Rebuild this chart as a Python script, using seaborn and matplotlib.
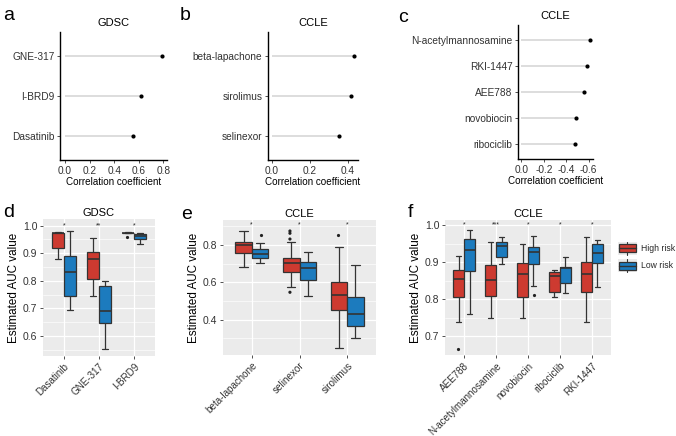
import numpy as np
import pandas as pd
import matplotlib
matplotlib.use("Agg")
import matplotlib.pyplot as plt
import seaborn as sns
from matplotlib.patches import Rectangle
from matplotlib.lines import Line2D
from matplotlib.ticker import FixedLocator

# ---------------- data ----------------
a_drugs = ["GNE-317", "I-BRD9", "Dasatinib"]
a_cor = [0.79, 0.62, 0.55]
b_drugs = ["beta-lapachone", "sirolimus", "selinexor"]
b_cor = [0.43, 0.415, 0.355]
c_drugs = ["N-acetylmannosamine", "RKI-1447", "AEE788", "novobiocin", "ribociclib"]
c_cor = [-0.61, -0.585, -0.56, -0.49, -0.475]

# box stats per drug: [lower whisker, q1, median, q3, upper whisker]
d_drugs = ["Dasatinib", "GNE-317", "I-BRD9"]
d_high = [[0.878, 0.918, 0.972, 0.975, 0.978],
          [0.746, 0.807, 0.878, 0.906, 0.954],
          [0.972, 0.973, 0.974, 0.975, 0.977]]
d_low = [[0.694, 0.745, 0.832, 0.890, 0.981],
         [0.553, 0.647, 0.692, 0.780, 0.800],
         [0.934, 0.953, 0.963, 0.970, 0.972]]
d_out_high = [[], [], [0.958]]
d_out_low = [[], [], []]
d_sig = ["*", "**", "*"]

e_drugs = ["beta-lapachone", "selinexor", "sirolimus"]
e_high = [[0.684, 0.755, 0.802, 0.818, 0.877],
          [0.577, 0.657, 0.705, 0.729, 0.818],
          [0.246, 0.452, 0.532, 0.600, 0.788]]
e_low = [[0.705, 0.729, 0.754, 0.779, 0.812],
         [0.529, 0.612, 0.675, 0.711, 0.764],
         [0.300, 0.368, 0.429, 0.520, 0.693]]
e_out_high = [[], [0.875, 0.863, 0.832, 0.547], [0.854]]
e_out_low = [[0.854], [], []]
e_sig = ["*", "*", "*"]

f_drugs = ["AEE788", "N-acetylmannosamine", "novobiocin", "ribociclib", "RKI-1447"]
f_high = [[0.739, 0.806, 0.853, 0.878, 0.916],
          [0.750, 0.808, 0.851, 0.892, 0.953],
          [0.750, 0.806, 0.868, 0.898, 0.948],
          [0.806, 0.820, 0.862, 0.874, 0.878],
          [0.737, 0.818, 0.868, 0.899, 0.967]]
f_low = [[0.759, 0.877, 0.932, 0.962, 0.986],
         [0.895, 0.914, 0.943, 0.955, 0.967],
         [0.835, 0.895, 0.928, 0.940, 0.970],
         [0.817, 0.844, 0.885, 0.887, 0.914],
         [0.832, 0.898, 0.925, 0.948, 0.959]]
f_out_high = [[0.664], [], [], [], []]
f_out_low = [[], [], [0.811], [], []]
f_sig = ["*", "***", "*", "*", "*"]

risk_levels = ["High risk", "Low risk"]
risk_colors = ["#CD3A30", "#1C7BBE"]

# ---------------- style ----------------
sns.set_theme(style="white")
plt.rcParams["font.family"] = ["Liberation Sans", "DejaVu Sans"]
plt.rcParams["axes.unicode_minus"] = False

W, H = 676, 436
fig = plt.figure(figsize=(W / 100, H / 100), dpi=100)


def add_panel(left, top, right, bottom):
    return fig.add_axes([left / W, 1 - bottom / H, (right - left) / W, (bottom - top) / H])


def lollipop(ax, drugs, vals, title, ticks, xlim):
    df = pd.DataFrame({"drug": drugs, "cor": vals})
    ax.hlines(y=np.arange(len(drugs)), xmin=0, xmax=df["cor"], color="#D3D3D3", lw=1.1, zorder=1)
    sns.stripplot(data=df, x="cor", y="drug", order=drugs, jitter=False, color="black",
                  size=3, linewidth=0, ax=ax, zorder=3)
    ax.set_xlim(*xlim)
    ax.set_ylim(len(drugs) - 0.4, -0.6)
    ax.set_xticks(ticks)
    ax.set_xticklabels([f"{t:.1f}" for t in ticks])
    ax.set_title(title, fontsize=8, pad=4, color="black")
    ax.set_xlabel("Correlation coefficient", fontsize=7.1, labelpad=1, color="black")
    ax.set_ylabel("")
    for s in ["top", "right"]:
        ax.spines[s].set_visible(False)
    for s in ["left", "bottom"]:
        ax.spines[s].set_color("black")
        ax.spines[s].set_linewidth(1.0)
    ax.tick_params(axis="both", length=2.5, width=0.6, color="#333333", labelsize=7.3,
                   labelcolor="#333333", pad=1.5, left=True, bottom=True)


def long_table(drugs, high, low, out_high, out_low):
    rows, outs = [], []
    for i, drug in enumerate(drugs):
        for risk, stats, fl in [("High risk", high[i], out_high[i]), ("Low risk", low[i], out_low[i])]:
            for v in stats:
                rows.append({"drug": drug, "risk": risk, "auc": v})
            for v in fl:
                outs.append({"drug": drug, "risk": risk, "auc": v})
    return pd.DataFrame(rows), pd.DataFrame(outs, columns=["drug", "risk", "auc"])


def boxpanel(ax, drugs, high, low, out_high, out_low, sig, title, yticks, yminor, ylim, sig_y):
    df, outs = long_table(drugs, high, low, out_high, out_low)
    ax.set_facecolor("#EBEBEB")
    sns.boxplot(data=df, x="drug", y="auc", hue="risk", order=drugs, hue_order=risk_levels,
                palette=risk_colors, whis=(0, 100), width=0.68, gap=0, saturation=1,
                linecolor="#333333", linewidth=0.9, showfliers=False, legend=False, ax=ax,
                medianprops={"linewidth": 1.2}, zorder=3)
    if len(outs):
        sns.stripplot(data=outs, x="drug", y="auc", hue="risk", order=drugs, hue_order=risk_levels,
                      dodge=True, jitter=False, palette=["#222222", "#222222"], size=2.3,
                      linewidth=0, legend=False, ax=ax, zorder=4)
    ax.set_xlim(-0.6, len(drugs) - 0.4)
    ax.set_ylim(*ylim)
    ax.yaxis.set_major_locator(FixedLocator(yticks))
    ax.yaxis.set_minor_locator(FixedLocator(yminor))
    ax.set_yticklabels([f"{t:.1f}" for t in yticks])
    ax.grid(which="major", color="white", lw=0.9, zorder=0)
    ax.grid(which="minor", axis="y", color="white", lw=0.45, zorder=0)
    ax.set_axisbelow(True)
    for s in ax.spines.values():
        s.set_visible(False)
    ax.tick_params(axis="both", which="major", length=2.5, width=0.6, color="#333333",
                   labelsize=7.5, labelcolor="#333333", pad=1.5, left=True, bottom=True)
    ax.tick_params(axis="x", labelsize=7.1)
    ax.tick_params(axis="y", which="minor", length=0)
    plt.setp(ax.get_xticklabels(), rotation=45, ha="right", rotation_mode="anchor")
    ax.set_xlabel("")
    ax.set_ylabel("Estimated AUC value", fontsize=8.4, labelpad=2, color="black")
    ax.set_title(title, fontsize=8, pad=2, color="black")
    for i, s in enumerate(sig):
        ax.text(i, sig_y, s, ha="center", va="center", fontsize=5, color="#222222")


class BoxKey:
    def __init__(self, color):
        self.color = color


class BoxKeyHandler:
    # ggplot-like legend key: grey square with a small box and whisker
    def legend_artist(self, legend, orig_handle, fontsize, handlebox):
        x0, y0 = -handlebox.xdescent, -handlebox.ydescent
        w, h = handlebox.width, handlebox.height
        tr = handlebox.get_transform()
        parts = [
            Rectangle((x0, y0), w, h, facecolor="#EBEBEB", edgecolor="none", transform=tr),
            Line2D([x0 + w / 2] * 2, [y0 + 0.02 * h, y0 + 0.98 * h], color="#333333", lw=0.8, transform=tr),
            Rectangle((x0 + 0.06 * w, y0 + 0.2 * h), 0.88 * w, 0.6 * h, facecolor=orig_handle.color,
                      edgecolor="#333333", lw=0.9, transform=tr),
            Line2D([x0 + 0.06 * w, x0 + 0.94 * w], [y0 + h / 2] * 2, color="#333333", lw=1.0, transform=tr),
        ]
        for p in parts:
            handlebox.add_artist(p)
        return parts[2]


# ---------------- top row: correlation lollipops ----------------
ax_a = add_panel(60, 32, 167, 160)
lollipop(ax_a, a_drugs, a_cor, "GDSC", [0.0, 0.2, 0.4, 0.6, 0.8], (-0.041, 0.83))

ax_b = add_panel(268, 32, 358, 160)
lollipop(ax_b, b_drugs, b_cor, "CCLE", [0.0, 0.2, 0.4], (-0.0195, 0.452))

ax_c = add_panel(518, 25, 593, 159)
lollipop(ax_c, c_drugs, c_cor, "CCLE", [0.0, -0.2, -0.4, -0.6], (0.03, -0.64))

# ---------------- bottom row: AUC boxplots ----------------
ax_d = add_panel(43, 219, 155, 356)
boxpanel(ax_d, d_drugs, d_high, d_low, d_out_high, d_out_low, d_sig, "GDSC",
         [0.6, 0.7, 0.8, 0.9, 1.0], [0.55, 0.65, 0.75, 0.85, 0.95], (0.527, 1.024), 1.0)

ax_e = add_panel(223, 220, 376, 355)
boxpanel(ax_e, e_drugs, e_high, e_low, e_out_high, e_out_low, e_sig, "CCLE",
         [0.4, 0.6, 0.8], [0.3, 0.5, 0.7, 0.9], (0.211, 0.934), 0.907)

ax_f = add_panel(445, 220, 611, 355)
boxpanel(ax_f, f_drugs, f_high, f_low, f_out_high, f_out_low, f_sig, "CCLE",
         [0.7, 0.8, 0.9, 1.0], [0.65, 0.75, 0.85, 0.95], (0.649, 1.0135), 1.0)

# legend
keys = [BoxKey(c) for c in risk_colors]
fig.legend(keys, risk_levels, handler_map={BoxKey: BoxKeyHandler()}, loc="upper left",
           bbox_to_anchor=(616 / W, 1 - 240 / H), frameon=False, fontsize=6.2,
           handlelength=2.2, handleheight=2.0, labelspacing=0.45, handletextpad=0.5,
           borderpad=0.2, borderaxespad=0)

# panel letters
for letter, x, y in [("a", 3, 16), ("b", 180, 16), ("c", 398, 18),
                     ("d", 3, 212), ("e", 181, 214), ("f", 408, 212)]:
    fig.text(x / W, 1 - y / H, letter, fontsize=14, va="center", ha="left", color="black")

fig.savefig("out.png", dpi=100)
